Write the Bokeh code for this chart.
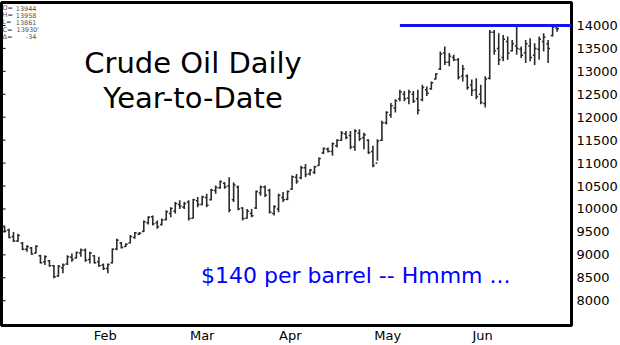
from bokeh.plotting import figure
from bokeh.models import ColumnDataSource, FixedTicker, Label, Range1d
from bokeh.embed import file_html
from bokeh.resources import INLINE

# ---- data ----
highs = [9640, 9570, 9500, 9460, 9280, 9210, 9170, 9210, 9000, 8990,
         8890, 8780, 8780, 8810, 8990, 9030, 9070, 9140, 9140, 9070,
         8990, 8960, 8810, 8810, 9140, 9350, 9280, 9250, 9430, 9500,
         9500, 9750, 9840, 9860, 9750, 9790, 9970, 10040, 10150, 10190,
         10150, 10190, 10220, 10260, 10290, 10330, 10440, 10510, 10620, 10580,
         10690, 10580, 10510, 10040, 10000, 10000, 10400, 10510, 10510, 10440,
         10080, 10330, 10370, 10400, 10730, 10760, 10940, 10980, 10870, 10940,
         11120, 11340, 11340, 11450, 11520, 11700, 11700, 11700, 11740, 11740,
         11660, 11520, 11380, 11520, 11920, 12130, 12310, 12390, 12600, 12570,
         12600, 12570, 12600, 12710, 12670, 12780, 12960, 13430, 13540, 13400,
         13360, 13290, 13140, 12930, 12820, 12850, 12710, 12890, 13900, 13900,
         13830, 13790, 13760, 13680, 14010, 13540, 13680, 13720, 13610, 13760,
         13830, 13680, 14010, 13958]
lows = [9500, 9360, 9280, 9280, 9100, 9070, 9000, 9030, 8810, 8780,
        8740, 8490, 8520, 8600, 8780, 8850, 8920, 8960, 8850, 8810,
        8810, 8740, 8670, 8600, 8810, 9100, 9140, 9170, 9250, 9350,
        9430, 9500, 9660, 9640, 9570, 9640, 9750, 9820, 9900, 10000,
        10000, 9750, 9790, 10040, 10080, 10040, 10190, 10330, 10440, 10440,
        9930, 10150, 9970, 9750, 9790, 9820, 10000, 10290, 10260, 9900,
        9860, 9930, 10150, 10190, 10420, 10550, 10650, 10690, 10730, 10760,
        10940, 11200, 11230, 11160, 11340, 11480, 11520, 11300, 11270, 11480,
        11300, 11200, 10910, 11050, 11480, 11840, 11990, 12100, 12350, 12350,
        12280, 12310, 12060, 12350, 12460, 12600, 12820, 13030, 13140, 13110,
        13220, 12820, 12780, 12600, 12460, 12390, 12280, 12210, 12820, 13360,
        13140, 13220, 13250, 13430, 13360, 13290, 13180, 13220, 13140, 13250,
        13430, 13180, 13760, 13861]
opens = [9620, 9540, 9400, 9300, 9250, 9120, 9150, 9040, 8980, 8850,
         8870, 8760, 8540, 8720, 8800, 8950, 8930, 9040, 9100, 8900,
         8980, 8850, 8780, 8700, 8830, 9130, 9260, 9180, 9260, 9380,
         9450, 9510, 9700, 9830, 9700, 9660, 9770, 9900, 9950, 10100,
         10040, 10150, 9800, 10180, 10100, 10250, 10200, 10400, 10460, 10560,
         10500, 10200, 10480, 10020, 9800, 9900, 10020, 10350, 10480, 10400,
         9900, 10000, 10250, 10210, 10430, 10690, 10680, 10900, 10760, 10800,
         10950, 11220, 11300, 11250, 11380, 11500, 11640, 11600, 11350, 11650,
         11550, 11500, 11250, 11000, 11500, 11880, 12050, 12200, 12400, 12500,
         12420, 12500, 12400, 12380, 12600, 12620, 12830, 13050, 13400, 13200,
         13300, 13250, 12900, 12900, 12700, 12600, 12500, 12300, 12850, 13850,
         13500, 13300, 13650, 13450, 13550, 13480, 13400, 13550, 13350, 13480,
         13650, 13600, 13780, 13944]
closes = [9520, 9380, 9300, 9420, 9120, 9180, 9020, 9190, 8830, 8960,
          8760, 8520, 8750, 8780, 8960, 8900, 9050, 9100, 8880, 9040,
          8830, 8760, 8700, 8790, 9120, 9320, 9160, 9230, 9400, 9480,
          9470, 9720, 9820, 9680, 9610, 9760, 9940, 10010, 10120, 10060,
          10120, 9790, 10200, 10100, 10260, 10080, 10410, 10470, 10600, 10480,
          9980, 10520, 10000, 9790, 9950, 9850, 10380, 10480, 10300, 9930,
          10050, 10300, 10200, 10380, 10700, 10600, 10900, 10750, 10850, 10920,
          11100, 11320, 11260, 11420, 11500, 11650, 11560, 11350, 11700, 11530,
          11620, 11230, 10950, 11480, 11880, 12100, 12250, 12360, 12550, 12400,
          12550, 12350, 12150, 12650, 12520, 12750, 12940, 13380, 13200, 13330,
          13250, 12870, 13050, 12650, 12580, 12450, 12320, 12830, 13850, 13450,
          13250, 13700, 13400, 13600, 13500, 13350, 13600, 13300, 13500, 13700,
          13750, 13500, 13964, 13930]

month_labels = ["Feb", "Mar", "Apr", "May", "Jun"]
month_ticks = [22.4, 44.0, 63.6, 85.3, 106.4]
price_ticks = [8000, 8500, 9000, 9500, 10000, 10500, 11000, 11500,
               12000, 12500, 13000, 13500, 14000]
resistance_level = 14000
resistance_start = 88

title_lines = ["Crude Oil Daily", "Year-to-Date"]
note_text = "$140 per barrel -- Hmmm ..."

# ---- build ----
n = len(highs)
xs = list(range(n))
src = ColumnDataSource(dict(
    x=xs,
    xo=[v - 0.42 for v in xs],
    xc=[v + 0.42 for v in xs],
    high=highs, low=lows, open=opens, close=closes,
))

X_START = -0.67
X_END = 126.2
p = figure(width=620, height=345, output_backend="svg", toolbar_location=None,
           x_range=Range1d(X_START, X_END), y_range=Range1d(7460, 14500),
           y_axis_location="right",
           min_border_left=1, min_border_top=2, min_border_right=48,
           min_border_bottom=18)
p.background_fill_color = "white"
p.border_fill_color = "white"
p.outline_line_color = "black"
p.outline_line_width = 3
p.xgrid.visible = False
p.ygrid.visible = False

bar_color = "#2a2a2a"
p.segment(x0="x", y0="low", x1="x", y1="high", source=src,
          line_color=bar_color, line_width=1.6)
p.segment(x0="xo", y0="open", x1="x", y1="open", source=src,
          line_color=bar_color, line_width=1.5)
p.segment(x0="x", y0="close", x1="xc", y1="close", source=src,
          line_color=bar_color, line_width=1.5)

# resistance line at $140
p.segment(x0=[resistance_start], y0=[resistance_level],
          x1=[X_END], y1=[resistance_level],
          line_color="#1414f0", line_width=3)

# small inner ticks on the left border, at the price ticks
p.segment(x0=[X_START] * len(price_ticks), y0=price_ticks,
          x1=[X_START + 0.9] * len(price_ticks), y1=price_ticks,
          line_color="black", line_width=1)

# right price axis
ya = p.yaxis[0]
ya.ticker = FixedTicker(ticks=price_ticks)
ya.axis_line_color = None
ya.major_tick_line_color = None
ya.minor_tick_line_color = None
ya.major_tick_out = 0
ya.major_tick_in = 0
ya.major_label_standoff = 5
ya.major_label_text_font = "DejaVu Sans"
ya.major_label_text_font_size = "13px"
ya.major_label_text_color = "black"

# bottom month axis
xa = p.xaxis[0]
xa.ticker = FixedTicker(ticks=month_ticks)
xa.major_label_overrides = {t: lab for t, lab in zip(month_ticks, month_labels)}
xa.axis_line_color = None
xa.major_tick_line_color = None
xa.minor_tick_line_color = None
xa.major_tick_out = 0
xa.major_tick_in = 0
xa.major_label_standoff = 2
xa.major_label_text_font = "DejaVu Sans"
xa.major_label_text_font_size = "13px"
xa.major_label_text_color = "black"

# titles (screen units relative to the frame)
p.add_layout(Label(x=191.5, y=262.5, x_units="screen", y_units="screen",
                   text=title_lines[0], text_align="center",
                   text_baseline="alphabetic", text_font="DejaVu Sans",
                   text_font_size="29px", text_color="black"))
p.add_layout(Label(x=191.5, y=227.5, x_units="screen", y_units="screen",
                   text=title_lines[1], text_align="center",
                   text_baseline="alphabetic", text_font="DejaVu Sans",
                   text_font_size="29px", text_color="black"))
p.add_layout(Label(x=199.5, y=50.5, x_units="screen", y_units="screen",
                   text=note_text, text_align="left",
                   text_baseline="alphabetic", text_font="DejaVu Sans",
                   text_font_size="22px", text_color="#0000ff"))

# info box (last bar)
info_labels = ["O=", "H=", "L=", "C=", "\u0394="]
info_values = [str(opens[-1]), str(highs[-1]), str(lows[-1]),
               str(closes[-1]) + "'", str(closes[-1] - closes[-2])]
for k, (lab, val) in enumerate(zip(info_labels, info_values)):
    yy = 325 - 7.5 - 7.2 * k
    p.add_layout(Label(x=1, y=yy, x_units="screen", y_units="screen",
                       text=lab, text_align="left", text_baseline="alphabetic",
                       text_font="DejaVu Sans", text_font_size="6.5px",
                       text_color="#555555"))
    p.add_layout(Label(x=35 if k != 3 else 37.5, y=yy, x_units="screen",
                       y_units="screen", text=val, text_align="right",
                       text_baseline="alphabetic", text_font="DejaVu Sans",
                       text_font_size="6.5px", text_color="#555555"))

open("out.html", "w").write(file_html(p, INLINE))
